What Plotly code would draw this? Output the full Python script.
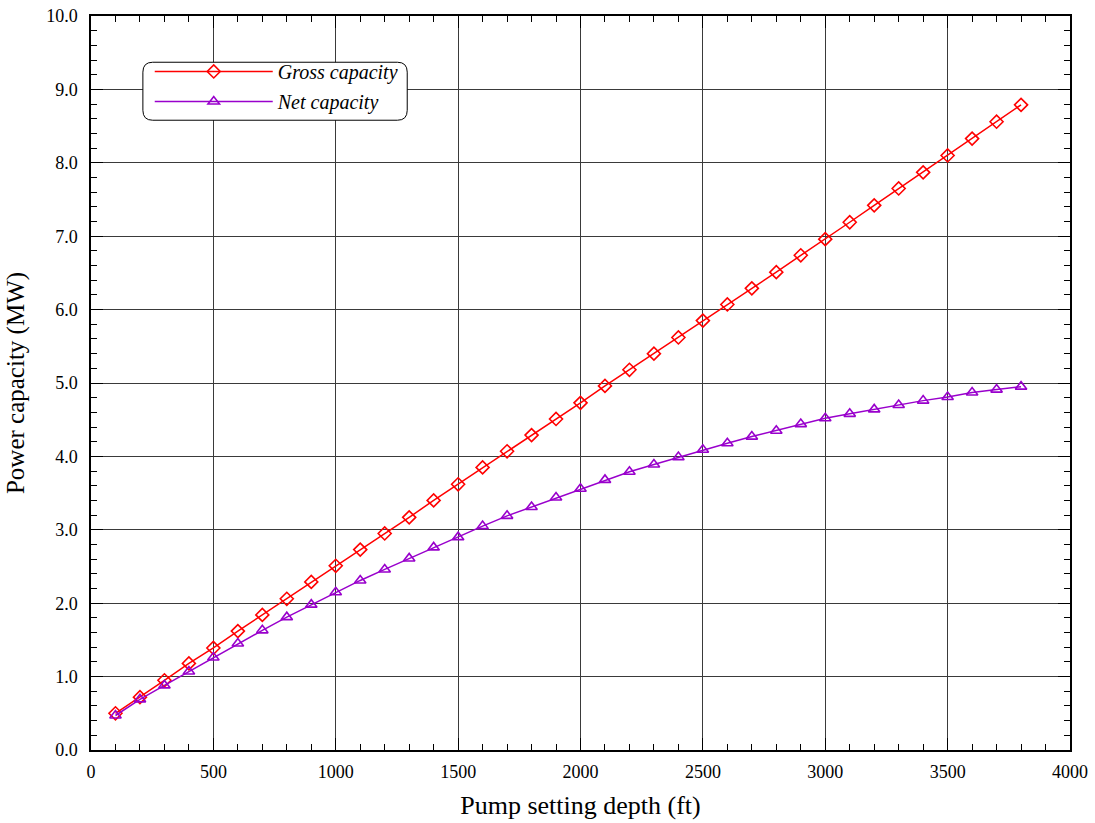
import plotly.graph_objects as go

depth = [100, 200, 300, 400, 500, 600, 700, 800, 900, 1000,
         1100, 1200, 1300, 1400, 1500, 1600, 1700, 1800, 1900, 2000,
         2100, 2200, 2300, 2400, 2500, 2600, 2700, 2800, 2900, 3000,
         3100, 3200, 3300, 3400, 3500, 3600, 3700, 3800]
gross = [0.50, 0.72, 0.95, 1.18, 1.39, 1.62, 1.84, 2.06, 2.29, 2.51,
         2.73, 2.95, 3.17, 3.40, 3.62, 3.85, 4.07, 4.29, 4.51, 4.73,
         4.96, 5.18, 5.40, 5.62, 5.85, 6.07, 6.29, 6.51, 6.74, 6.96,
         7.19, 7.42, 7.65, 7.87, 8.10, 8.33, 8.56, 8.79]
net = [0.47, 0.69, 0.88, 1.07, 1.26, 1.45, 1.63, 1.81, 1.98, 2.15,
       2.31, 2.46, 2.61, 2.76, 2.90, 3.05, 3.19, 3.31, 3.44, 3.56,
       3.68, 3.79, 3.89, 3.99, 4.09, 4.18, 4.27, 4.35, 4.44, 4.52,
       4.58, 4.64, 4.70, 4.76, 4.81, 4.87, 4.91, 4.95]

RED = "#FF0000"
PURPLE = "#9900CC"
FONT = "Liberation Serif, Times New Roman, serif"

fig = go.Figure()
fig.add_trace(go.Scatter(x=depth, y=gross, mode="lines+markers", name="Gross capacity",
                         legendgroup="g1",
                         line=dict(color=RED, width=1.5),
                         marker=dict(symbol="diamond-open", size=10, color=RED, line=dict(width=1.6))))
fig.add_trace(go.Scatter(x=depth, y=net, mode="lines+markers", name="Net capacity",
                         legendgroup="g2",
                         line=dict(color=PURPLE, width=1.5),
                         marker=dict(symbol="triangle-up-open", size=10, color=PURPLE, line=dict(width=1.6))))

# rounded legend frame
x0, x1, y0, y1 = 212, 1292, 8.58, 9.37
rx, ry = 40, 0.135
path = (f"M {x0+rx},{y1} L {x1-rx},{y1} Q {x1},{y1} {x1},{y1-ry} "
        f"L {x1},{y0+ry} Q {x1},{y0} {x1-rx},{y0} L {x0+rx},{y0} "
        f"Q {x0},{y0} {x0},{y0+ry} L {x0},{y1-ry} Q {x0},{y1} {x0+rx},{y1} Z")
fig.add_shape(type="path", path=path, xref="x", yref="y",
              line=dict(color="black", width=1), fillcolor="white", layer="above")

axis_common = dict(
    showline=True, linecolor="black", linewidth=1.5, mirror="allticks",
    ticks="inside", ticklen=12, tickwidth=1.2, tickcolor="black",
    showgrid=True, gridcolor="#3a3a3a", gridwidth=1, zeroline=False,
    tickfont=dict(family=FONT, size=18, color="black"),
    automargin=False,
)

fig.update_xaxes(range=[0, 4000], dtick=500, ticklabelstandoff=5,
                 minor=dict(dtick=100, ticks="inside", ticklen=6, tickcolor="black", showgrid=False),
                 title=dict(text="Pump setting depth (ft)", font=dict(family=FONT, size=26, color="black"), standoff=14),
                 **axis_common)
fig.update_yaxes(range=[0, 10], dtick=1, tickformat=".1f", ticklabelstandoff=8,
                 minor=dict(dtick=0.2, ticks="inside", ticklen=6, tickcolor="black", showgrid=False),
                 title=dict(text="Power capacity (MW)", font=dict(family=FONT, size=25, color="black"), standoff=14),
                 **axis_common)

fig.update_layout(
    width=1095, height=823,
    margin=dict(l=91, r=25, t=16, b=73),
    paper_bgcolor="white", plot_bgcolor="white",
    font=dict(family=FONT, color="black"),
    legend=dict(x=0.06, y=0.951, xanchor="left", yanchor="top",
                bgcolor="rgba(0,0,0,0)", borderwidth=0,
                font=dict(family=FONT, size=20, color="black", style="italic"),
                itemwidth=118, tracegroupgap=1, traceorder="grouped"),
)

fig.write_html("out.html")
